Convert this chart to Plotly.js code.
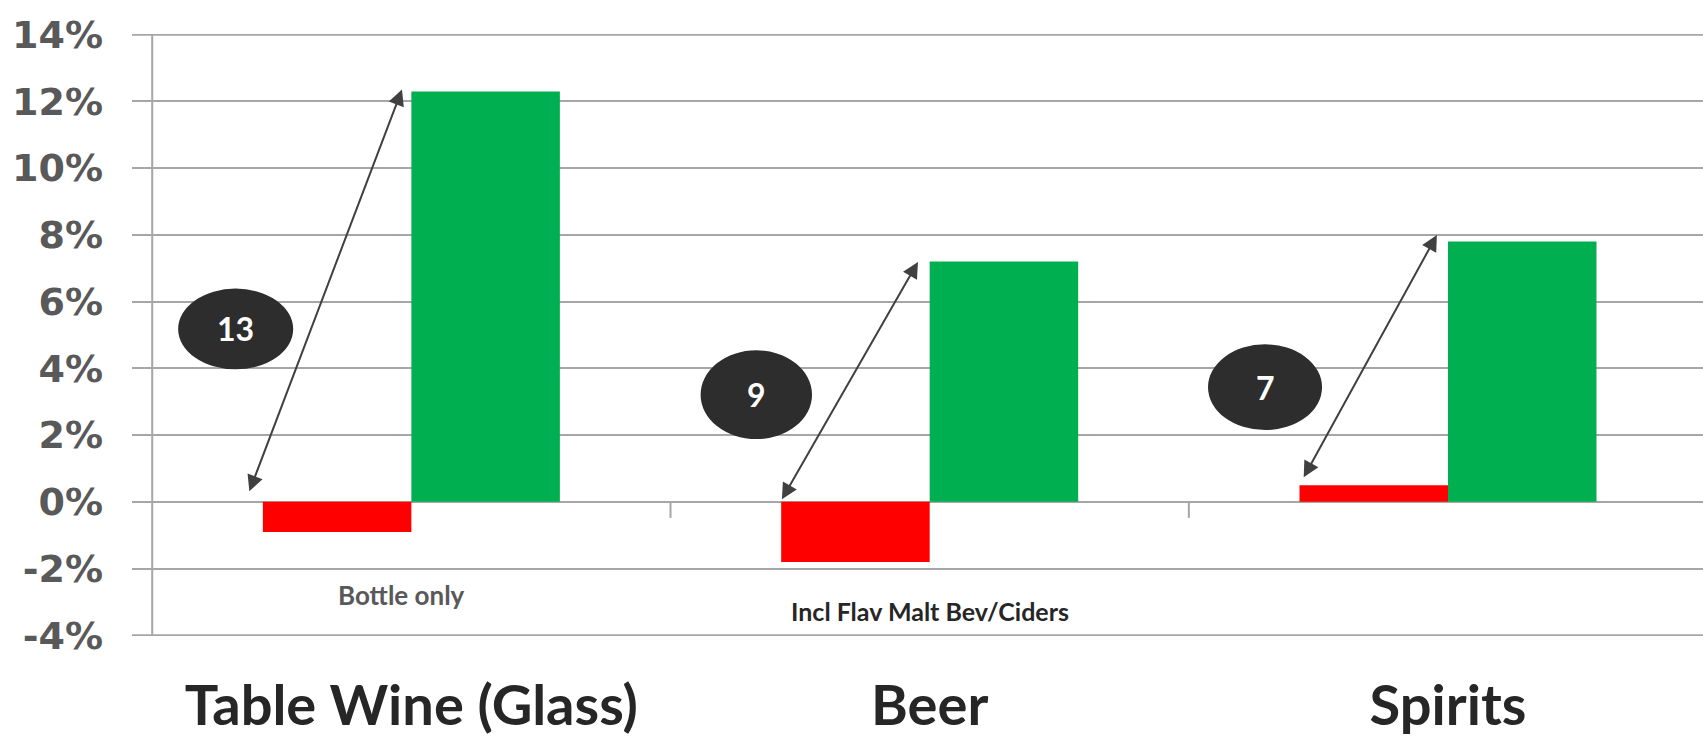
<!DOCTYPE html>
<html>
<head>
<meta charset="utf-8">
<script src="https://cdn.plot.ly/plotly-3.0.1.min.js"></script>
<style>html,body{margin:0;padding:0;background:#fff;}#chart{width:1703px;height:740px;}</style>
</head>
<body>
<div id="chart"></div>
<script>
// Data
const categories = ["Table Wine (Glass)", "Beer", "Spirits"];
const redValues = [-0.009, -0.018, 0.005];
const greenValues = [0.123, 0.072, 0.078];
const gapLabels = ["13", "9", "7"];
const notes = ["Bottle only", "Incl Flav Malt Bev/Ciders"];
const yTicks = [-0.04, -0.02, 0, 0.02, 0.04, 0.06, 0.08, 0.10, 0.12, 0.14];
const yTickText = ["-4%", "-2%", "0%", "2%", "4%", "6%", "8%", "10%", "12%", "14%"];

const traces = [
  {type: "bar", x: categories, y: redValues, marker: {color: "#ff0000"}, showlegend: false, hoverinfo: "y"},
  {type: "bar", x: categories, y: greenValues, marker: {color: "#00b050"}, showlegend: false, hoverinfo: "y"}
];

// decorative geometry (annotation/shape placement)
const ellipses = [
  {x0: -0.450, x1: -0.228, y0: 0.0397, y1: 0.0639},
  {x0: 0.558, x1: 0.773, y0: 0.0188, y1: 0.0454},
  {x0: 1.537, x1: 1.757, y0: 0.0215, y1: 0.0472}
];
const arrows = [
  {x: -0.0181, y: 0.1236, ax: -0.3137, ay: 0.0027},
  {x: 0.9774, y: 0.0719, ax: 0.7132, ay: 0.0003},
  {x: 1.9786, y: 0.0800, ax: 1.720, ay: 0.0069}
];
const notePos = [{x: -0.02, y: -0.028, color: "#595959", size: 26}, {x: 1.0, y: -0.0327, color: "#262626", size: 25}];

const shapes = [];
// edge gridlines (top and bottom ticks)
[yTicks[0], yTicks[yTicks.length - 1]].forEach(v => shapes.push({type: "line", xref: "paper", yref: "y", x0: 0, x1: 1, y0: v, y1: v, line: {color: "#a6a6a6", width: 2}, layer: "below"}));
// vertical axis line
shapes.push({type: "line", xref: "x", yref: "y", x0: -0.5, x1: -0.5, y0: -0.04, y1: 0.14, line: {color: "#a6a6a6", width: 2}, layer: "below"});
// category tick marks
[0.5, 1.5].forEach(v => shapes.push({type: "line", xref: "x", yref: "y", x0: v, x1: v, y0: 0, y1: -0.0048, line: {color: "#a6a6a6", width: 2}, layer: "below"}));
ellipses.forEach(e => shapes.push({type: "circle", xref: "x", yref: "y", x0: e.x0, x1: e.x1, y0: e.y0, y1: e.y1, fillcolor: "#2d2d2d", line: {width: 0}, layer: "above"}));

const annotations = [];
ellipses.forEach((e, i) => annotations.push({
  xref: "x", yref: "y", x: (e.x0 + e.x1) / 2, y: (e.y0 + e.y1) / 2, text: "<b>" + gapLabels[i] + "</b>",
  showarrow: false, font: {family: "Lato", size: 32, color: "#ffffff"}
}));
arrows.forEach(a => annotations.push({
  xref: "x", yref: "y", axref: "x", ayref: "y", x: a.x, y: a.y, ax: a.ax, ay: a.ay, text: "",
  showarrow: true, arrowside: "end+start", arrowhead: 2, startarrowhead: 2, arrowsize: 1.6, startarrowsize: 1.6,
  arrowwidth: 2, arrowcolor: "#404040", standoff: 0, startstandoff: 0
}));
notes.forEach((n, i) => annotations.push({
  xref: "x", yref: "y", x: notePos[i].x, y: notePos[i].y, text: "<b>" + n + "</b>", showarrow: false,
  font: {family: "Lato", size: notePos[i].size, color: notePos[i].color}
}));

const layout = {
  width: 1703, height: 740,
  margin: {l: 132, r: 0, t: 34, b: 104},
  paper_bgcolor: "#ffffff", plot_bgcolor: "#ffffff",
  barmode: "group", bargap: 0.427, bargroupgap: 0,
  xaxis: {
    type: "category", range: [-0.539, 2.492], showgrid: false, zeroline: false, showline: false,
    ticks: "", tickfont: {family: "Lato", size: 56, color: "#262626", weight: "bold"},
    ticklabelstandoff: 32, fixedrange: true
  },
  yaxis: {
    range: [-0.0402, 0.1402], tickvals: yTicks, ticktext: yTickText, showgrid: true, gridcolor: "#a6a6a6", gridwidth: 2,
    zeroline: false, showline: false, ticks: "",
    tickfont: {family: "DejaVu Sans", size: 38, color: "#595959", weight: "bold"},
    ticklabelstandoff: 28, fixedrange: true
  },
  shapes: shapes,
  annotations: annotations
};

Plotly.newPlot("chart", traces, layout, {displayModeBar: false, staticPlot: true});
</script>
</body>
</html>
